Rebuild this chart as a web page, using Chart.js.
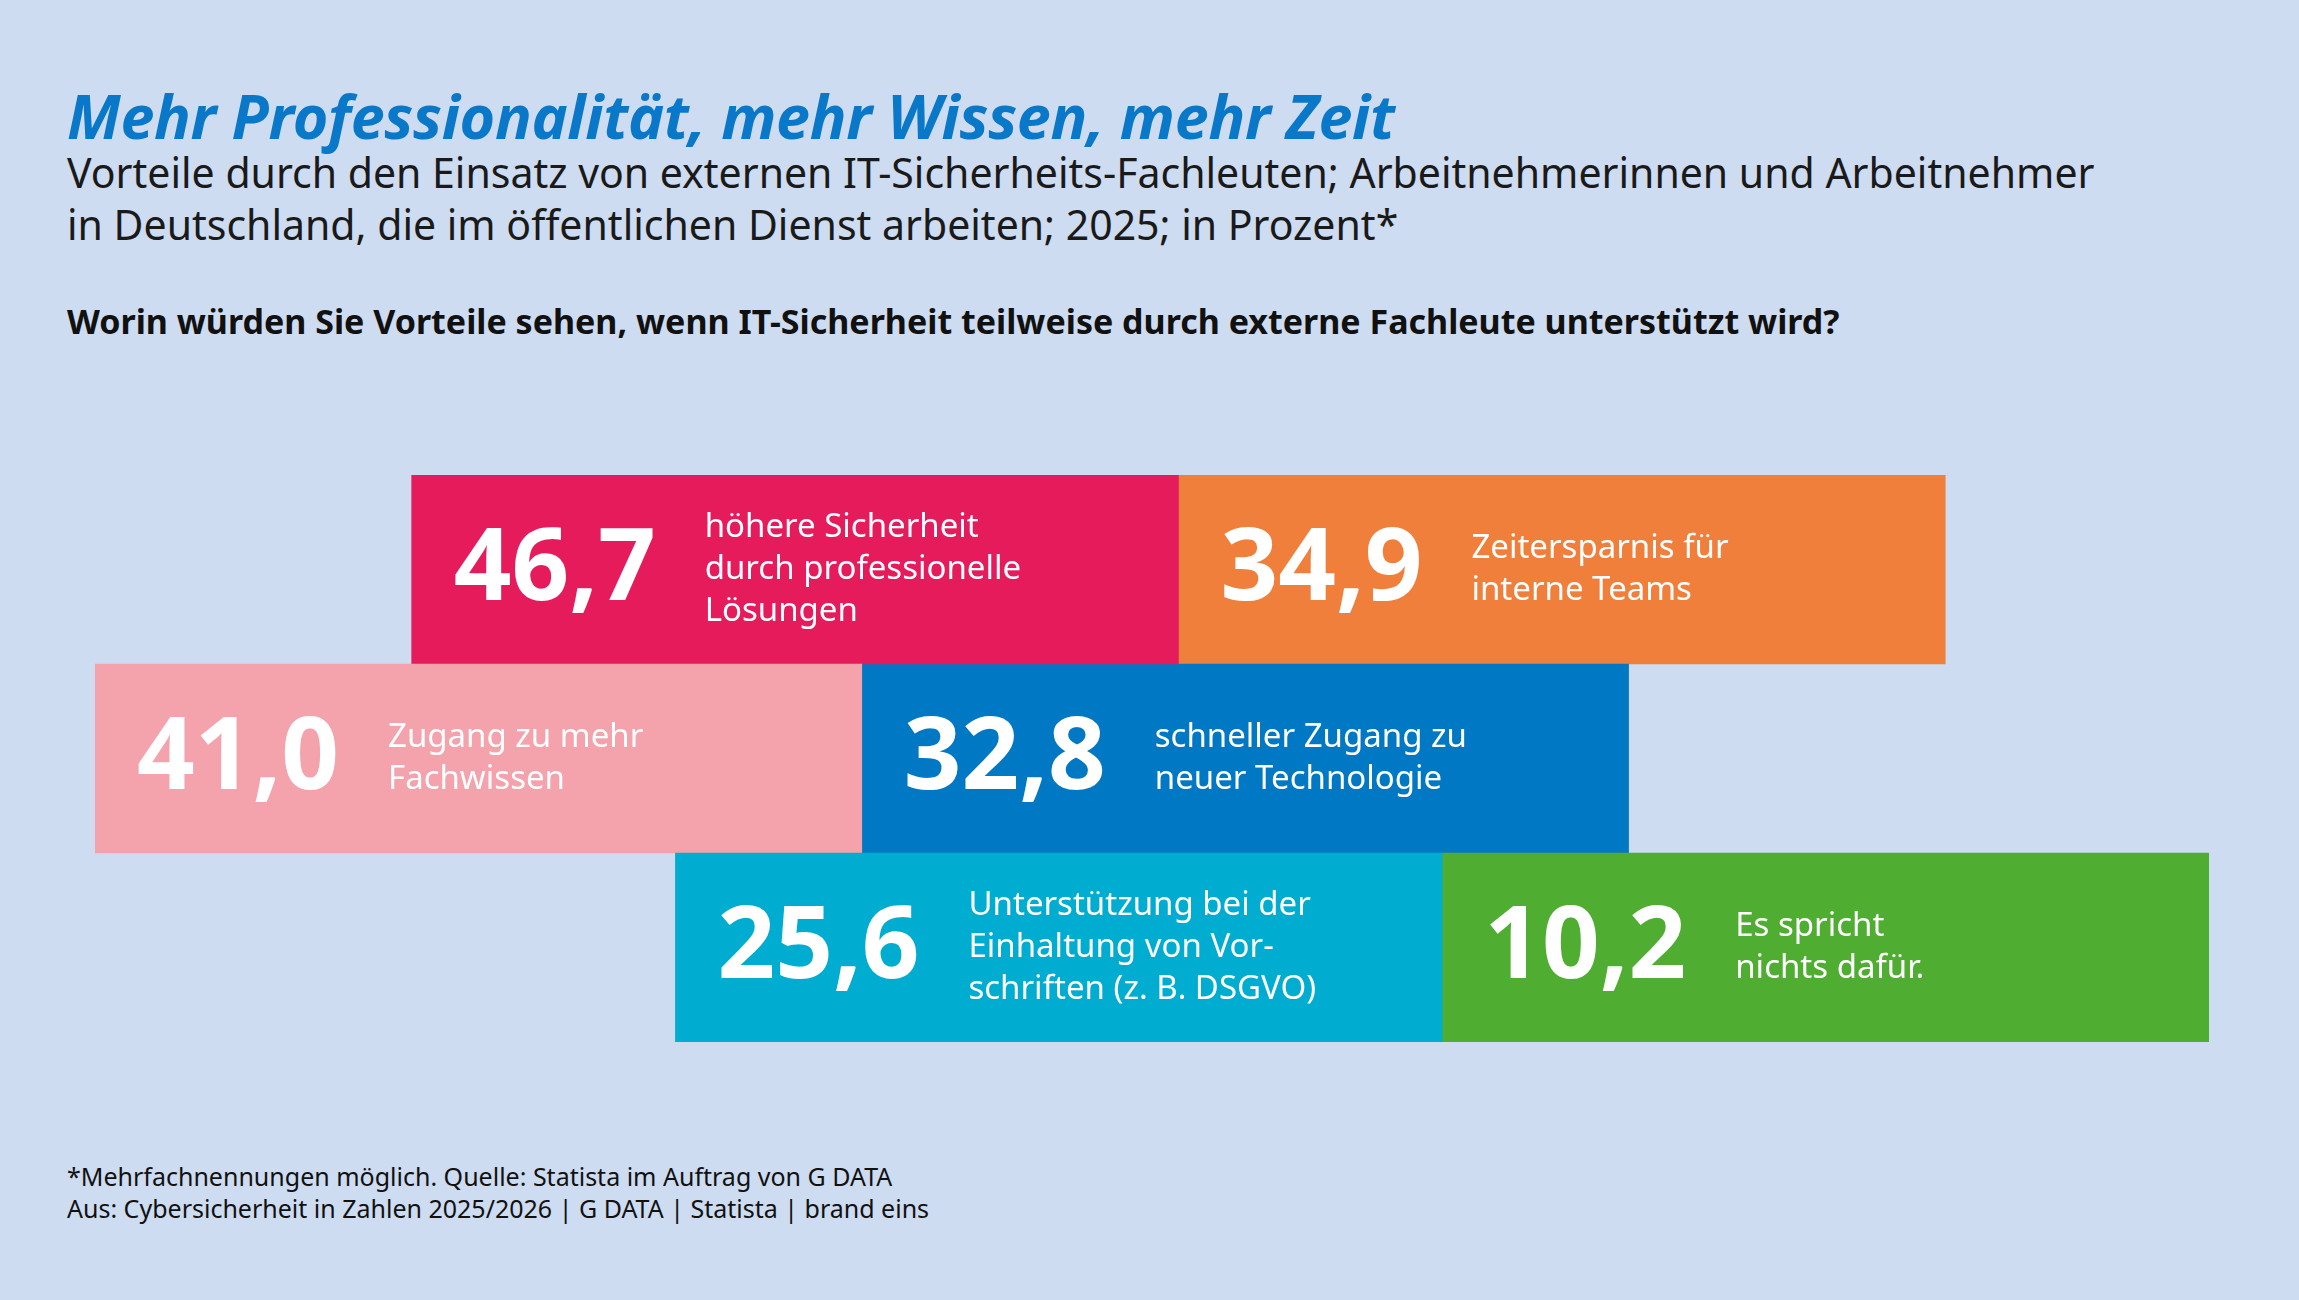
<!DOCTYPE html>
<html><head><meta charset="utf-8">
<script src="https://cdn.jsdelivr.net/npm/chart.js@4"></script>
<style>
body{margin:0;width:2299px;height:1300px;background:#cddcf0;font-family:"Noto Sans",sans-serif;position:relative;overflow:hidden;color:#111}
#t{position:absolute;left:67px;top:74px;font-size:61px;font-weight:700;font-style:italic;color:#0a78c8;letter-spacing:-0.3px}
#s{position:absolute;left:67px;top:146px;font-size:41px;line-height:52px;color:#1a1a1a}
#q{position:absolute;left:67px;top:298px;font-size:34px;font-weight:700}
#f{position:absolute;left:67px;top:1160px;font-size:25px;line-height:32px}
#w{position:absolute;left:95px;top:475px;width:2114px;height:567px}
</style></head><body>
<div id="t">Mehr Professionalität, mehr Wissen, mehr Zeit</div>
<div id="s">Vorteile durch den Einsatz von externen IT-Sicherheits-Fachleuten; Arbeitnehmerinnen und Arbeitnehmer<br>in Deutschland, die im öffentlichen Dienst arbeiten; 2025; in Prozent*</div>
<div id="q">Worin würden Sie Vorteile sehen, wenn IT-Sicherheit teilweise durch externe Fachleute unterstützt wird?</div>
<div id="w"><canvas id="c"></canvas></div>
<div id="f">*Mehrfachnennungen möglich. Quelle: Statista im Auftrag von G DATA<br>Aus: Cybersicherheit in Zahlen 2025/2026 | G DATA | Statista | brand eins</div>
<script>
const rows = ["r1", "r2", "r3"];
const rowOffsets = [0.413, 0, 0.757];
const leftValues = ["46,7", "41,0", "25,6"];
const rightValues = ["34,9", "32,8", "10,2"];
const leftLabels = [["höhere Sicherheit", "durch professionelle", "Lösungen"], ["Zugang zu mehr", "Fachwissen"], ["Unterstützung bei der", "Einhaltung von Vor-", "schriften (z. B. DSGVO)"]];
const rightLabels = [["Zeitersparnis für", "interne Teams"], ["schneller Zugang zu", "neuer Technologie"], ["Es spricht", "nichts dafür."]];
const leftColors = ["#e61b5c", "#f4a3ac", "#00acd0"];
const rightColors = ["#f07f3c", "#0078c3", "#4fae32"];

const textPlugin = {
  id: "tiles",
  afterDatasetsDraw(chart) {
    const ctx = chart.ctx;
    const sets = [[leftValues, leftLabels], [rightValues, rightLabels]];
    sets.forEach((s, di) => {
      chart.getDatasetMeta(di).data.forEach((bar, i) => {
        const x0 = Math.min(bar.x, bar.base);
        const yc = bar.y;
        ctx.save();
        ctx.fillStyle = "#fff";
        ctx.textBaseline = "middle";
        ctx.font = "bold 101px 'Noto Sans'";
        ctx.fillText(s[0][i], x0 + 42, yc + 2);
        ctx.font = "33px 'Noto Sans'";
        const lines = s[1][i];
        const lh = 42;
        lines.forEach((l, k) => {
          ctx.fillText(l, x0 + 293, yc + (k - (lines.length - 1) / 2) * lh);
        });
        ctx.restore();
      });
    });
  }
};

new Chart(document.getElementById("c"), {
  type: "bar",
  data: {
    labels: rows,
    datasets: [{
      data: rowOffsets.map(o => [o, o + 1]),
      backgroundColor: leftColors,
      grouped: false
    }, {
      data: rowOffsets.map(o => [o + 1, o + 2]),
      backgroundColor: rightColors,
      grouped: false
    }]
  },
  plugins: [textPlugin],
  options: {
    indexAxis: "y",
    responsive: true,
    maintainAspectRatio: false,
    animation: false,
    barPercentage: 1,
    categoryPercentage: 1,
    layout: {padding: 0},
    plugins: {legend: {display: false}, tooltip: {enabled: false}},
    scales: {
      x: {min: 0, max: 2.757, display: false},
      y: {display: false}
    }
  }
});
</script>
</body></html>
